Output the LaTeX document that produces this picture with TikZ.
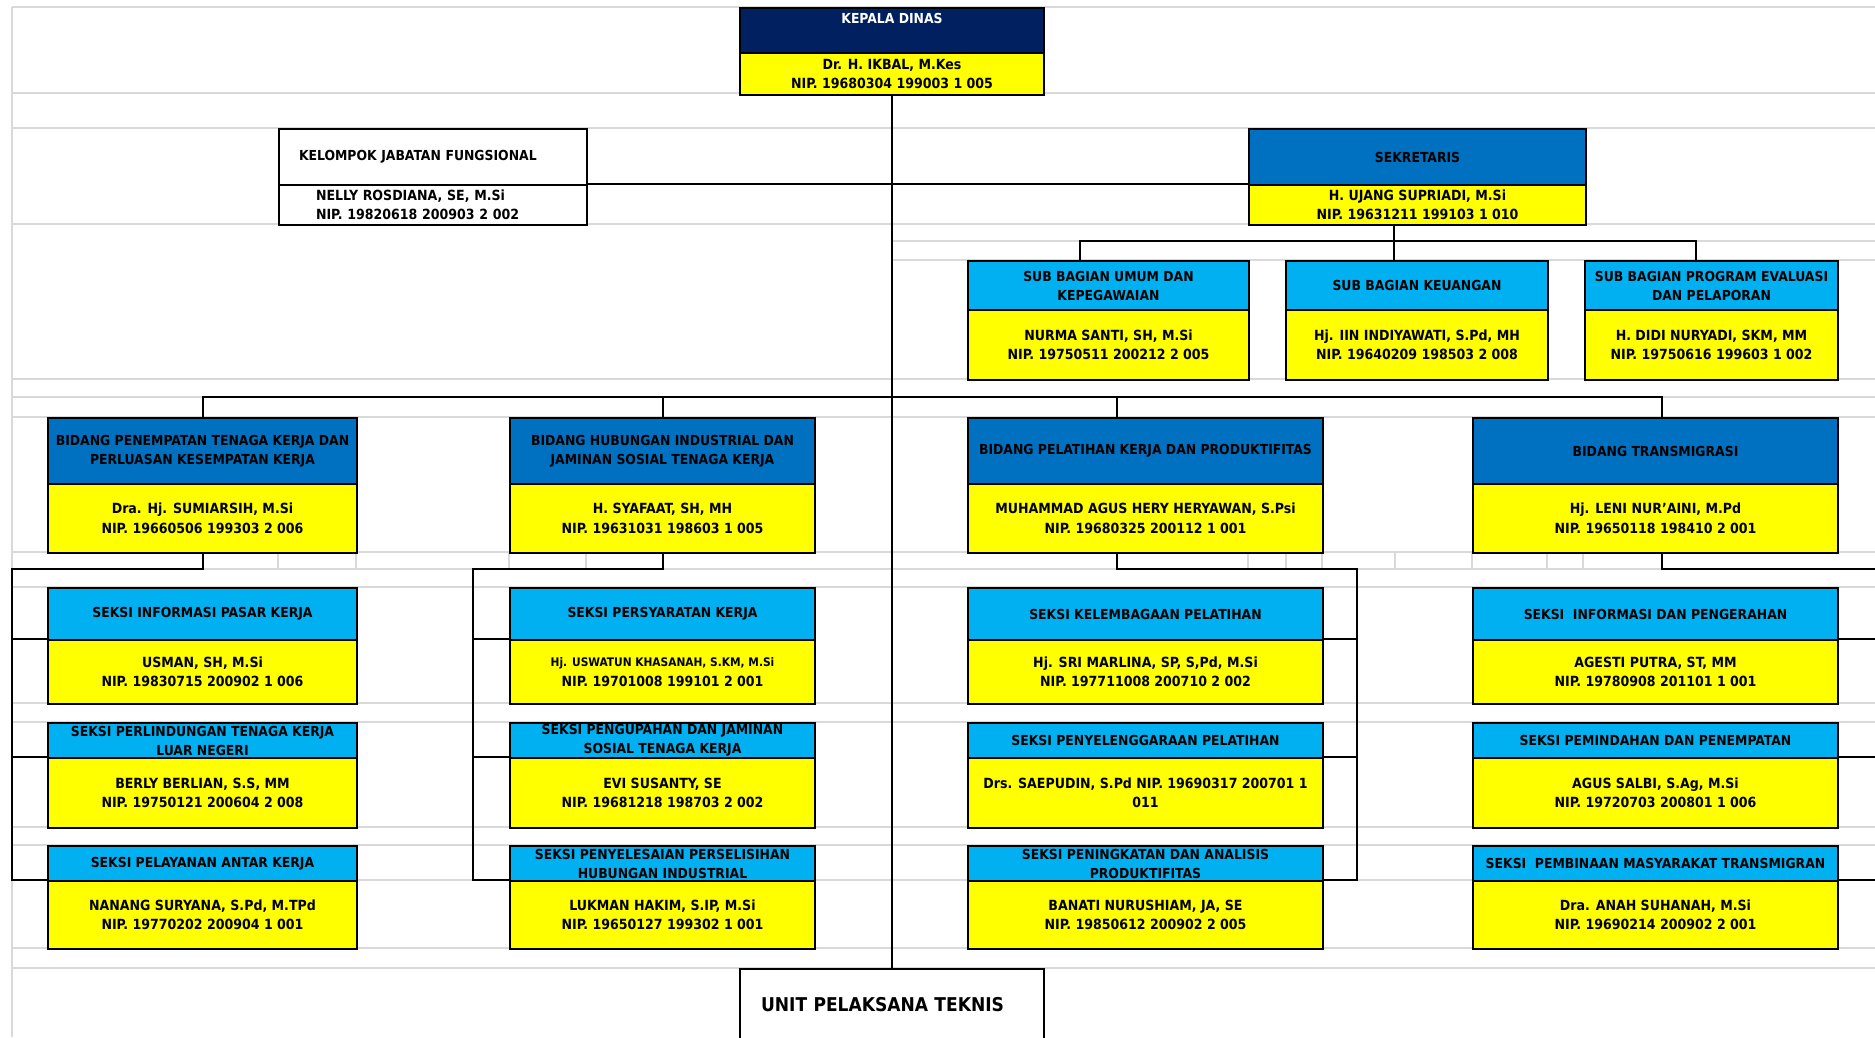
\documentclass[tikz,border=0pt]{standalone}
\usepackage{fontspec}
\usepackage{tikz}
\usetikzlibrary{calc}

\IfFontExistsTF{DejaVu Sans Condensed Bold}
  {\newfontfamily\orgfont{DejaVu Sans Condensed Bold}}
  {\IfFontExistsTF{DejaVuSansCondensed-Bold.ttf}
    {\newfontfamily\orgfont{DejaVuSansCondensed-Bold.ttf}}
    {\newfontfamily\orgfont{Liberation Sans}[UprightFont={* Bold}]}}

\definecolor{kadisnavy}{HTML}{002060}
\definecolor{bidangblue}{HTML}{0070C0}
\definecolor{seksiblue}{HTML}{00B0F0}
\definecolor{namakuning}{HTML}{FFFF00}
\definecolor{gridgray}{HTML}{D9D9D9}

\tikzset{
  jabatan/.style={draw=black, line width=2pt, anchor=north west, inner sep=0pt, align=center,
    font=\orgfont\fontsize{13.8}{19}\selectfont},
  kadis/.style={jabatan, fill=kadisnavy, text=white},
  bidang/.style={jabatan, fill=bidangblue},
  seksi/.style={jabatan, fill=seksiblue},
  nama/.style={jabatan, fill=namakuning, font=\orgfont\fontsize{14}{19.5}\selectfont},
  putih/.style={jabatan, fill=white},
  kol1/.style={minimum width=309pt},
  kol2/.style={minimum width=305pt},
  kol3/.style={minimum width=355pt},
  kol4/.style={minimum width=365pt},
  grid/.style={draw=gridgray, line width=1.8pt},
  conn/.style={draw=black, line width=2pt}
}

\begin{document}
\begin{tikzpicture}[x=1pt, y=-1pt]
\useasboundingbox (0,0) rectangle (1875,1037);
\clip (0,0) rectangle (1875,1037);

% sheet gridlines
\draw[grid] (12,7) -- (1875,7);
\draw[grid] (12,93) -- (1875,93);
\draw[grid] (12,128) -- (1875,128);
\draw[grid] (12,224) -- (1875,224);
\draw[grid] (892,241) -- (1875,241);
\draw[grid] (892,260) -- (1875,260);
\draw[grid] (12,379) -- (1875,379);
\draw[grid] (12,397) -- (1875,397);
\draw[grid] (12,417) -- (1875,417);
\draw[grid] (12,552) -- (1875,552);
\draw[grid] (12,569) -- (1875,569);
\draw[grid] (12,587) -- (1875,587);
\draw[grid] (12,703) -- (1875,703);
\draw[grid] (12,722) -- (1875,722);
\draw[grid] (12,827) -- (1875,827);
\draw[grid] (12,845) -- (1875,845);
\draw[grid] (12,880) -- (1875,880);
\draw[grid] (12,948) -- (1875,948);
\draw[grid] (12,968) -- (1875,968);
\draw[grid] (12,7) -- (12,1037);
\draw[grid] (278,552) -- (278,569);
\draw[grid] (356,552) -- (356,569);
\draw[grid] (509,552) -- (509,569);
\draw[grid] (586,552) -- (586,569);
\draw[grid] (1248,552) -- (1248,569);
\draw[grid] (1286,552) -- (1286,569);
\draw[grid] (1322,552) -- (1322,569);
\draw[grid] (1395,552) -- (1395,569);
\draw[grid] (1472,552) -- (1472,569);
\draw[grid] (1547,552) -- (1547,569);
\draw[grid] (1583,552) -- (1583,569);

% kepala dinas
\node[kadis, minimum width=304pt, minimum height=45pt, text height=10pt, text depth=24pt] (kdh) at (739,7) {KEPALA DINAS};
\node[nama, minimum width=304pt, minimum height=42pt] (kdn) at (739,52) {Dr. H. IKBAL, M.Kes\\NIP. 19680304 199003 1 005};

% kelompok jabatan fungsional
\node[putih, minimum height=56pt, text width=268pt, inner xsep=20pt, align=left] (kjh) at (278,128) {KELOMPOK JABATAN FUNGSIONAL};
\node[putih, minimum height=40pt, text width=234pt, inner xsep=37pt, align=left,
  font=\orgfont\fontsize{14}{19.5}\selectfont] (kjn) at (278,184) {NELLY ROSDIANA, SE, M.Si\\NIP. 19820618 200903 2 002};

% sekretaris
\node[bidang, minimum width=337pt, minimum height=56pt] (skh) at (1248,128) {SEKRETARIS};
\node[nama, minimum width=337pt, minimum height=40pt] (skn) at (1248,184) {H. UJANG SUPRIADI, M.Si\\NIP. 19631211 199103 1 010};

% sub bagian
\node[seksi, minimum width=281pt, minimum height=49pt] (umh) at (967,260) {SUB BAGIAN UMUM DAN\\KEPEGAWAIAN};
\node[nama, minimum width=281pt, minimum height=70pt] (umn) at (967,309) {NURMA SANTI, SH, M.Si\\NIP. 19750511 200212 2 005};
\node[seksi, minimum width=262pt, minimum height=49pt] (kuh) at (1285,260) {SUB BAGIAN KEUANGAN};
\node[nama, minimum width=262pt, minimum height=70pt] (kun) at (1285,309) {Hj. IIN INDIYAWATI, S.Pd, MH\\NIP. 19640209 198503 2 008};
\node[seksi, minimum width=253pt, minimum height=49pt] (pgh) at (1584,260) {SUB BAGIAN PROGRAM EVALUASI\\DAN PELAPORAN};
\node[nama, minimum width=253pt, minimum height=70pt] (pgn) at (1584,309) {H. DIDI NURYADI, SKM, MM\\NIP. 19750616 199603 1 002};

% bidang
\node[bidang, kol1, minimum height=66pt] (b1h) at (47,417) {BIDANG PENEMPATAN TENAGA KERJA DAN\\PERLUASAN KESEMPATAN KERJA};
\node[nama, kol1, minimum height=69pt] (b1n) at (47,483) {Dra. Hj. SUMIARSIH, M.Si\\NIP. 19660506 199303 2 006};
\node[bidang, kol2, minimum height=66pt] (b2h) at (509,417) {BIDANG HUBUNGAN INDUSTRIAL DAN\\JAMINAN SOSIAL TENAGA KERJA};
\node[nama, kol2, minimum height=69pt] (b2n) at (509,483) {H. SYAFAAT, SH, MH\\NIP. 19631031 198603 1 005};
\node[bidang, kol3, minimum height=66pt] (b3h) at (967,417) {BIDANG PELATIHAN KERJA DAN PRODUKTIFITAS};
\node[nama, kol3, minimum height=69pt] (b3n) at (967,483) {MUHAMMAD AGUS HERY HERYAWAN, S.Psi\\NIP. 19680325 200112 1 001};
\node[bidang, kol4, minimum height=66pt] (b4h) at (1472,417) {BIDANG TRANSMIGRASI};
\node[nama, kol4, minimum height=69pt] (b4n) at (1472,483) {Hj. LENI NUR’AINI, M.Pd\\NIP. 19650118 198410 2 001};

% seksi, kolom 1
\node[seksi, kol1, minimum height=52pt] (s11h) at (47,587) {SEKSI INFORMASI PASAR KERJA};
\node[nama, kol1, minimum height=64pt] (s11n) at (47,639) {USMAN, SH, M.Si\\NIP. 19830715 200902 1 006};
\node[seksi, kol1, minimum height=35pt] (s12h) at (47,722) {SEKSI PERLINDUNGAN TENAGA KERJA\\LUAR NEGERI};
\node[nama, kol1, minimum height=70pt] (s12n) at (47,757) {BERLY BERLIAN, S.S, MM\\NIP. 19750121 200604 2 008};
\node[seksi, kol1, minimum height=35pt] (s13h) at (47,845) {SEKSI PELAYANAN ANTAR KERJA};
\node[nama, kol1, minimum height=68pt] (s13n) at (47,880) {NANANG SURYANA, S.Pd, M.TPd\\NIP. 19770202 200904 1 001};

% seksi, kolom 2
\node[seksi, kol2, minimum height=52pt] (s21h) at (509,587) {SEKSI PERSYARATAN KERJA};
\node[nama, kol2, minimum height=64pt] (s21n) at (509,639) {{\fontsize{11.8}{19.5}\selectfont Hj. USWATUN KHASANAH, S.KM, M.Si}\\NIP. 19701008 199101 2 001};
\node[seksi, kol2, minimum height=35pt] (s22h) at (509,722) {SEKSI PENGUPAHAN DAN JAMINAN\\SOSIAL TENAGA KERJA};
\node[nama, kol2, minimum height=70pt] (s22n) at (509,757) {EVI SUSANTY, SE\\NIP. 19681218 198703 2 002};
\node[seksi, kol2, minimum height=35pt] (s23h) at (509,845) {SEKSI PENYELESAIAN PERSELISIHAN\\HUBUNGAN INDUSTRIAL};
\node[nama, kol2, minimum height=68pt] (s23n) at (509,880) {LUKMAN HAKIM, S.IP, M.Si\\NIP. 19650127 199302 1 001};

% seksi, kolom 3
\node[seksi, kol3, minimum height=52pt] (s31h) at (967,587) {SEKSI KELEMBAGAAN PELATIHAN};
\node[nama, kol3, minimum height=64pt] (s31n) at (967,639) {Hj. SRI MARLINA, SP, S,Pd, M.Si\\NIP. 197711008 200710 2 002};
\node[seksi, kol3, minimum height=35pt] (s32h) at (967,722) {SEKSI PENYELENGGARAAN PELATIHAN};
\node[nama, kol3, minimum height=70pt] (s32n) at (967,757) {Drs. SAEPUDIN, S.Pd NIP. 19690317 200701 1\\011};
\node[seksi, kol3, minimum height=35pt] (s33h) at (967,845) {SEKSI PENINGKATAN DAN ANALISIS\\PRODUKTIFITAS};
\node[nama, kol3, minimum height=68pt] (s33n) at (967,880) {BANATI NURUSHIAM, JA, SE\\NIP. 19850612 200902 2 005};

% seksi, kolom 4
\node[seksi, kol4, minimum height=52pt] (s41h) at (1472,587) {SEKSI\ \ INFORMASI DAN PENGERAHAN};
\node[nama, kol4, minimum height=64pt] (s41n) at (1472,639) {AGESTI PUTRA, ST, MM\\NIP. 19780908 201101 1 001};
\node[seksi, kol4, minimum height=35pt] (s42h) at (1472,722) {SEKSI PEMINDAHAN DAN PENEMPATAN};
\node[nama, kol4, minimum height=70pt] (s42n) at (1472,757) {AGUS SALBI, S.Ag, M.Si\\NIP. 19720703 200801 1 006};
\node[seksi, kol4, minimum height=35pt] (s43h) at (1472,845) {SEKSI\ \ PEMBINAAN MASYARAKAT TRANSMIGRAN};
\node[nama, kol4, minimum height=68pt] (s43n) at (1472,880) {Dra. ANAH SUHANAH, M.Si\\NIP. 19690214 200902 2 001};

% unit pelaksana teknis
\node[putih, minimum height=72pt, text width=262pt, inner xsep=21pt, align=left,
  font=\orgfont\fontsize{19}{22}\selectfont] (upt) at (739,968) {UNIT PELAKSANA TEKNIS};

% garis komando
\draw[conn] (kdn.south) -- (upt.north);
\draw[conn, line width=1.5pt] (kjn.north east) -- (skn.north west);

\coordinate (sek1) at (1079.5,241);
\coordinate (sek2) at (1394,241);
\coordinate (sek3) at (1696,241);
\draw[conn] (skn.south -| sek2) -- (kuh.north -| sek2);
\draw[conn] (umh.north -| sek1) |- (sek3) -- (pgh.north -| sek3);

\coordinate (bus3) at (1117,397);
\coordinate (bus4) at (1662,397);
\draw[conn] (b1h.north) |- (bus4) -- (b4h.north -| bus4);
\draw[conn] (b2h.north) -- (b2h.north |- bus4);
\draw[conn] (bus3) -- (b3h.north -| bus3);

\coordinate (sp1) at (12,569);
\draw[conn] (b1n.south) |- (sp1) |- (s13n.north west);
\draw[conn] (sp1 |- s11n.north west) -- (s11n.north west);
\draw[conn] (sp1 |- s12n.north west) -- (s12n.north west);

\coordinate (sp2) at (473,569);
\draw[conn] (b2n.south) |- (sp2) |- (s23n.north west);
\draw[conn] (sp2 |- s21n.north west) -- (s21n.north west);
\draw[conn] (sp2 |- s22n.north west) -- (s22n.north west);

\coordinate (sp3) at (1357,569);
\draw[conn] (b3n.south -| bus3) |- (sp3) |- (s33n.north east);
\draw[conn] (sp3 |- s31n.north east) -- (s31n.north east);
\draw[conn] (sp3 |- s32n.north east) -- (s32n.north east);

\coordinate (sp4) at (1895,569);
\draw[conn] (b4n.south -| bus4) |- (sp4) |- (s43n.north east);
\draw[conn] (sp4 |- s41n.north east) -- (s41n.north east);
\draw[conn] (sp4 |- s42n.north east) -- (s42n.north east);
\end{tikzpicture}
\end{document}
